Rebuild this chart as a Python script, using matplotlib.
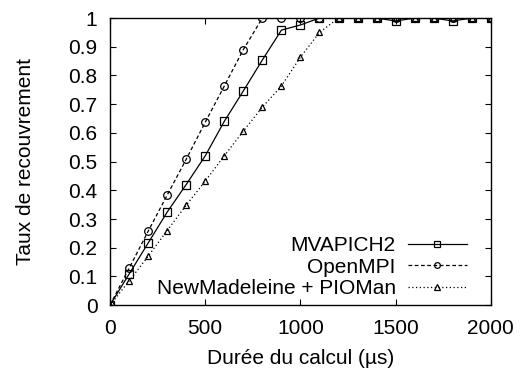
import matplotlib
matplotlib.use("Agg")
import matplotlib.pyplot as plt
from matplotlib.ticker import FuncFormatter

# durée du calcul (µs)
durees = [0, 100, 200, 300, 400, 500, 600, 700, 800, 900, 1000,
          1100, 1200, 1300, 1400, 1500, 1600, 1700, 1800, 1900, 2000]

mvapich2 = [0.0, 0.108, 0.216, 0.324, 0.42, 0.52, 0.64, 0.746, 0.854, 0.958, 0.976,
            1.0, 1.0, 1.0, 1.0, 0.99, 1.0, 1.0, 0.99, 1.0, 1.0]
openmpi = [0.0, 0.128, 0.257, 0.383, 0.508, 0.637, 0.763, 0.89, 1.0, 1.0, 1.0,
           1.0, 1.0, 1.0, 1.0, 1.0, 1.0, 1.0, 1.0, 1.0, 1.0]
newmad = [0.0, 0.084, 0.17, 0.26, 0.348, 0.432, 0.52, 0.606, 0.69, 0.763, 0.864,
          0.95, 1.0, 1.0, 1.0, 1.0, 1.0, 1.0, 1.0, 1.0, 1.0]

plt.rcParams['font.family'] = ['Liberation Sans', 'DejaVu Sans']
fs = 15

fig = plt.figure(figsize=(5.25, 3.69), dpi=100)
ax = fig.add_axes([0.2095, 0.173, 0.7255, 0.778])

ax.plot(durees, mvapich2, color='black', lw=0.9, linestyle='-',
        marker='s', ms=5.5, mfc='none', mew=0.9, label='MVAPICH2')
ax.plot(durees, openmpi, color='black', lw=0.9, linestyle=(0, (3, 2)),
        marker='o', ms=5.5, mfc='none', mew=0.9, label='OpenMPI')
ax.plot(durees, newmad, color='black', lw=0.9, linestyle=(0, (1, 2)),
        marker='^', ms=5, mfc='none', mew=0.9, label='NewMadeleine + PIOMan')

ax.set_xlim(0, 2000)
ax.set_ylim(0, 1)
ax.set_xticks([0, 500, 1000, 1500, 2000])
ax.set_yticks([i / 10 for i in range(11)])
ax.yaxis.set_major_formatter(FuncFormatter(lambda v, p: '%g' % round(v, 1)))
ax.tick_params(direction='in', top=True, right=True, labelsize=fs, length=4)
ax.tick_params(axis='y', pad=9)
ax.tick_params(axis='x', pad=10)
for s in ax.spines.values():
    s.set_linewidth(1.0)

ax.set_xlabel('Durée du calcul (µs)', fontsize=fs, labelpad=8)
ax.set_ylabel('Taux de recouvrement', fontsize=fs, labelpad=24)

leg = ax.legend(loc='lower right', bbox_to_anchor=(0.958, -0.005),
                markerfirst=False, frameon=False, fontsize=fs,
                handlelength=2.8, handletextpad=0.6, labelspacing=0.12,
                borderaxespad=0.0, markerscale=0.75)
for t in leg.get_texts():
    t.set_ha('right')
leg._legend_box.align = 'right'

fig.savefig('out.png', dpi=100)
